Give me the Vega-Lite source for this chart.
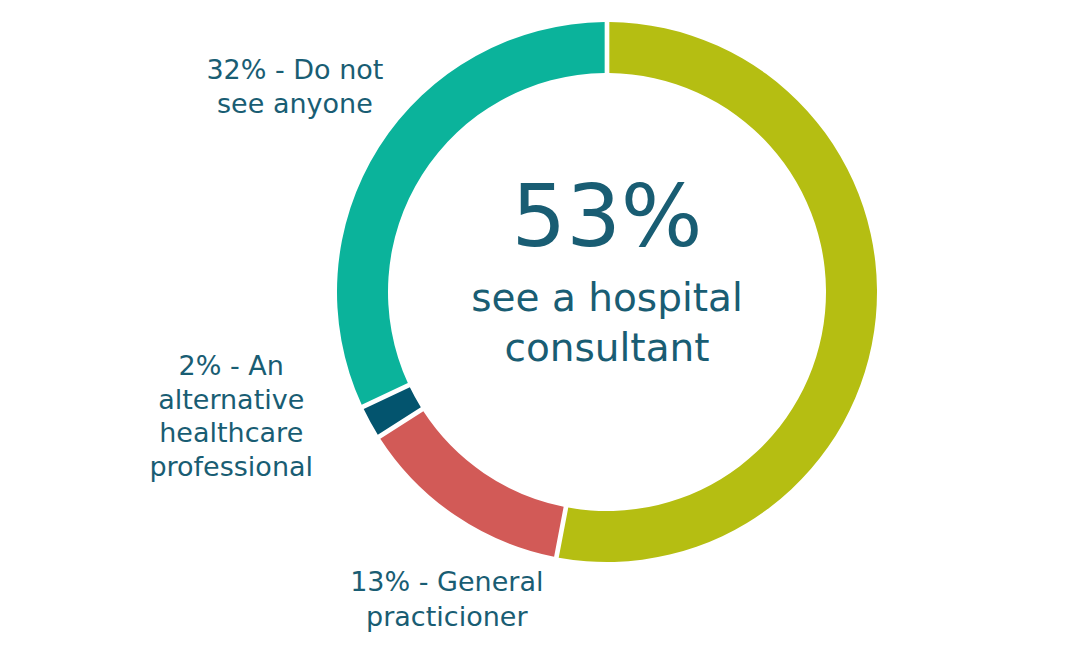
{
  "$schema": "https://vega.github.io/schema/vega-lite/v6.json",
  "width": 932,
  "height": 584,
  "autosize": {"type": "none"},
  "padding": {"left": 141, "top": 0, "right": 0, "bottom": 77},
  "background": "white",
  "config": {"view": {"stroke": null}},
  "data": {
    "values": [
      {"category": "See a hospital consultant", "value": 53, "rank": 1, "label": "53% - See a hospital consultant"},
      {"category": "General practicioner", "value": 13, "rank": 2, "label": "13% - General\npracticioner"},
      {"category": "An alternative healthcare professional", "value": 2, "rank": 3, "label": "2% - An\nalternative\nhealthcare\nprofessional"},
      {"category": "Do not see anyone", "value": 32, "rank": 4, "label": "32% - Do not\nsee anyone"}
    ]
  },
  "layer": [
    {
      "mark": {"type": "arc", "innerRadius": 219, "outerRadius": 270, "padAngle": 0.0135},
      "encoding": {
        "theta": {"field": "value", "type": "quantitative", "stack": true},
        "order": {"field": "rank", "type": "quantitative"},
        "color": {
          "field": "category",
          "type": "nominal",
          "scale": {
            "domain": ["See a hospital consultant", "General practicioner", "An alternative healthcare professional", "Do not see anyone"],
            "range": ["#b5be12", "#d25a57", "#03546e", "#0bb39b"]
          },
          "legend": null
        }
      }
    },
    {
      "mark": {"type": "text", "radius": 373, "thetaOffset": 0.014, "font": "DejaVu Sans", "fontSize": 27, "color": "#195d73", "lineBreak": "\n", "lineHeight": 34, "align": "center", "baseline": "middle", "dy": -17},
      "encoding": {
        "theta": {"field": "value", "type": "quantitative", "stack": true},
        "order": {"field": "rank", "type": "quantitative"},
        "text": {"condition": {"test": "datum.rank === 4", "field": "label"}, "value": ""}
      }
    },
    {
      "mark": {"type": "text", "radius": 396, "thetaOffset": 0.1815, "font": "DejaVu Sans", "fontSize": 27, "color": "#195d73", "lineBreak": "\n", "lineHeight": 33.5, "align": "center", "baseline": "middle", "dy": -50},
      "encoding": {
        "theta": {"field": "value", "type": "quantitative", "stack": true},
        "order": {"field": "rank", "type": "quantitative"},
        "text": {"condition": {"test": "datum.rank === 3", "field": "label"}, "value": ""}
      }
    },
    {
      "mark": {"type": "text", "radius": 347, "thetaOffset": -0.117, "font": "DejaVu Sans", "fontSize": 27, "color": "#195d73", "lineBreak": "\n", "lineHeight": 35, "align": "center", "baseline": "middle", "dy": -17},
      "encoding": {
        "theta": {"field": "value", "type": "quantitative", "stack": true},
        "order": {"field": "rank", "type": "quantitative"},
        "text": {"condition": {"test": "datum.rank === 2", "field": "label"}, "value": ""}
      }
    },
    {
      "data": {"values": [{"headline": "53%", "caption": "see a hospital\nconsultant"}]},
      "mark": {"type": "text", "font": "DejaVu Sans", "fontSize": 86, "color": "#195d73", "align": "center", "baseline": "middle", "dy": -72},
      "encoding": {"text": {"field": "headline", "type": "nominal"}}
    },
    {
      "data": {"values": [{"headline": "53%", "caption": "see a hospital\nconsultant"}]},
      "mark": {"type": "text", "font": "DejaVu Sans", "fontSize": 39, "color": "#195d73", "align": "center", "baseline": "middle", "lineBreak": "\n", "lineHeight": 50, "dy": 7},
      "encoding": {"text": {"field": "caption", "type": "nominal"}}
    }
  ]
}
